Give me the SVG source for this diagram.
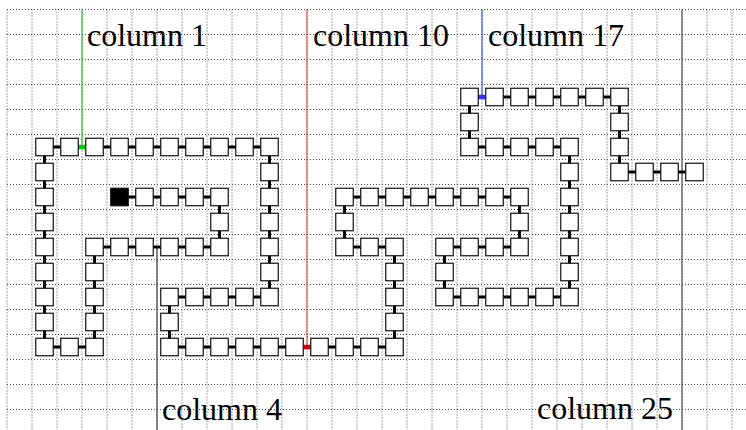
<svg xmlns="http://www.w3.org/2000/svg" width="746" height="430" viewBox="0 0 746 430">
<style>
.grid{fill:none;stroke:#222;stroke-width:0.8;stroke-dasharray:1 2}
.sq{fill:#fff;stroke:#111;stroke-width:1.2}
.start{fill:#000}
.conn{fill:none;stroke:#000;stroke-width:3}
.mark{fill:none;stroke-width:4.5}
.col{fill:none;stroke-width:1.1}
.lbl{font-family:"Liberation Serif","Times New Roman",serif;font-size:32px;fill:#000}
</style>
<rect x="0" y="0" width="746" height="430" fill="#fff"/>
<g id="grid">
<path class="grid" d="M7 9.5V430M32 9.5V430M57 9.5V430M82 9.5V430M107 9.5V430M132 9.5V430M157 9.5V430M182 9.5V430M207 9.5V430M232 9.5V430M257 9.5V430M282 9.5V430M307 9.5V430M332 9.5V430M357 9.5V430M382 9.5V430M407 9.5V430M432 9.5V430M457 9.5V430M482 9.5V430M507 9.5V430M532 9.5V430M557 9.5V430M582 9.5V430M607 9.5V430M632 9.5V430M657 9.5V430M682 9.5V430M707 9.5V430M732 9.5V430"/>
<path class="grid" d="M7 9.5H746M7 34.5H746M7 59.5H746M7 84.5H746M7 109.5H746M7 134.5H746M7 159.5H746M7 184.5H746M7 209.5H746M7 234.5H746M7 259.5H746M7 284.5H746M7 309.5H746M7 334.5H746M7 359.5H746M7 384.5H746M7 409.5H746"/>
</g>
<g id="columns">
<line class="col" x1="82" y1="10" x2="82" y2="147" stroke="#22c422"/>
<line class="col" x1="307" y1="10" x2="307" y2="347" stroke="#ee4444"/>
<line class="col" x1="482" y1="10" x2="482" y2="97" stroke="#4444ee"/>
<line class="col" x1="157" y1="247" x2="157" y2="430" stroke="#333"/>
<line class="col" x1="682" y1="10" x2="682" y2="430" stroke="#444" stroke-width="1.4"/>
</g>
<g id="connectors">
<polyline class="conn" points="119.5,197 219.5,197 219.5,247 94.5,247 94.5,347 44.5,347 44.5,147 269.5,147 269.5,297 169.5,297 169.5,347 394.5,347 394.5,247 344.5,247 344.5,197 519.5,197 519.5,247 444.5,247 444.5,297 569.5,297 569.5,147 469.5,147 469.5,97 619.5,97 619.5,172 694.5,172"/>
<line class="mark" x1="78.25" y1="147" x2="85.75" y2="147" stroke="#00cc00"/>
<line class="mark" x1="303.25" y1="347" x2="310.75" y2="347" stroke="#d00000"/>
<line class="mark" x1="478.25" y1="97" x2="485.75" y2="97" stroke="#3333ff"/>
</g>
<g id="nodes">
<g id="n1"><rect class="sq start" x="110.75" y="188.25" width="17.5" height="17.5"/></g>
<g id="n2"><rect class="sq" x="135.75" y="188.25" width="17.5" height="17.5"/></g>
<g id="n3"><rect class="sq" x="160.75" y="188.25" width="17.5" height="17.5"/></g>
<g id="n4"><rect class="sq" x="185.75" y="188.25" width="17.5" height="17.5"/></g>
<g id="n5"><rect class="sq" x="210.75" y="188.25" width="17.5" height="17.5"/></g>
<g id="n6"><rect class="sq" x="210.75" y="213.25" width="17.5" height="17.5"/></g>
<g id="n7"><rect class="sq" x="210.75" y="238.25" width="17.5" height="17.5"/></g>
<g id="n8"><rect class="sq" x="185.75" y="238.25" width="17.5" height="17.5"/></g>
<g id="n9"><rect class="sq" x="160.75" y="238.25" width="17.5" height="17.5"/></g>
<g id="n10"><rect class="sq" x="135.75" y="238.25" width="17.5" height="17.5"/></g>
<g id="n11"><rect class="sq" x="110.75" y="238.25" width="17.5" height="17.5"/></g>
<g id="n12"><rect class="sq" x="85.75" y="238.25" width="17.5" height="17.5"/></g>
<g id="n13"><rect class="sq" x="85.75" y="263.25" width="17.5" height="17.5"/></g>
<g id="n14"><rect class="sq" x="85.75" y="288.25" width="17.5" height="17.5"/></g>
<g id="n15"><rect class="sq" x="85.75" y="313.25" width="17.5" height="17.5"/></g>
<g id="n16"><rect class="sq" x="85.75" y="338.25" width="17.5" height="17.5"/></g>
<g id="n17"><rect class="sq" x="60.75" y="338.25" width="17.5" height="17.5"/></g>
<g id="n18"><rect class="sq" x="35.75" y="338.25" width="17.5" height="17.5"/></g>
<g id="n19"><rect class="sq" x="35.75" y="313.25" width="17.5" height="17.5"/></g>
<g id="n20"><rect class="sq" x="35.75" y="288.25" width="17.5" height="17.5"/></g>
<g id="n21"><rect class="sq" x="35.75" y="263.25" width="17.5" height="17.5"/></g>
<g id="n22"><rect class="sq" x="35.75" y="238.25" width="17.5" height="17.5"/></g>
<g id="n23"><rect class="sq" x="35.75" y="213.25" width="17.5" height="17.5"/></g>
<g id="n24"><rect class="sq" x="35.75" y="188.25" width="17.5" height="17.5"/></g>
<g id="n25"><rect class="sq" x="35.75" y="163.25" width="17.5" height="17.5"/></g>
<g id="n26"><rect class="sq" x="35.75" y="138.25" width="17.5" height="17.5"/></g>
<g id="n27"><rect class="sq" x="60.75" y="138.25" width="17.5" height="17.5"/></g>
<g id="n28"><rect class="sq" x="85.75" y="138.25" width="17.5" height="17.5"/></g>
<g id="n29"><rect class="sq" x="110.75" y="138.25" width="17.5" height="17.5"/></g>
<g id="n30"><rect class="sq" x="135.75" y="138.25" width="17.5" height="17.5"/></g>
<g id="n31"><rect class="sq" x="160.75" y="138.25" width="17.5" height="17.5"/></g>
<g id="n32"><rect class="sq" x="185.75" y="138.25" width="17.5" height="17.5"/></g>
<g id="n33"><rect class="sq" x="210.75" y="138.25" width="17.5" height="17.5"/></g>
<g id="n34"><rect class="sq" x="235.75" y="138.25" width="17.5" height="17.5"/></g>
<g id="n35"><rect class="sq" x="260.75" y="138.25" width="17.5" height="17.5"/></g>
<g id="n36"><rect class="sq" x="260.75" y="163.25" width="17.5" height="17.5"/></g>
<g id="n37"><rect class="sq" x="260.75" y="188.25" width="17.5" height="17.5"/></g>
<g id="n38"><rect class="sq" x="260.75" y="213.25" width="17.5" height="17.5"/></g>
<g id="n39"><rect class="sq" x="260.75" y="238.25" width="17.5" height="17.5"/></g>
<g id="n40"><rect class="sq" x="260.75" y="263.25" width="17.5" height="17.5"/></g>
<g id="n41"><rect class="sq" x="260.75" y="288.25" width="17.5" height="17.5"/></g>
<g id="n42"><rect class="sq" x="235.75" y="288.25" width="17.5" height="17.5"/></g>
<g id="n43"><rect class="sq" x="210.75" y="288.25" width="17.5" height="17.5"/></g>
<g id="n44"><rect class="sq" x="185.75" y="288.25" width="17.5" height="17.5"/></g>
<g id="n45"><rect class="sq" x="160.75" y="288.25" width="17.5" height="17.5"/></g>
<g id="n46"><rect class="sq" x="160.75" y="313.25" width="17.5" height="17.5"/></g>
<g id="n47"><rect class="sq" x="160.75" y="338.25" width="17.5" height="17.5"/></g>
<g id="n48"><rect class="sq" x="185.75" y="338.25" width="17.5" height="17.5"/></g>
<g id="n49"><rect class="sq" x="210.75" y="338.25" width="17.5" height="17.5"/></g>
<g id="n50"><rect class="sq" x="235.75" y="338.25" width="17.5" height="17.5"/></g>
<g id="n51"><rect class="sq" x="260.75" y="338.25" width="17.5" height="17.5"/></g>
<g id="n52"><rect class="sq" x="285.75" y="338.25" width="17.5" height="17.5"/></g>
<g id="n53"><rect class="sq" x="310.75" y="338.25" width="17.5" height="17.5"/></g>
<g id="n54"><rect class="sq" x="335.75" y="338.25" width="17.5" height="17.5"/></g>
<g id="n55"><rect class="sq" x="360.75" y="338.25" width="17.5" height="17.5"/></g>
<g id="n56"><rect class="sq" x="385.75" y="338.25" width="17.5" height="17.5"/></g>
<g id="n57"><rect class="sq" x="385.75" y="313.25" width="17.5" height="17.5"/></g>
<g id="n58"><rect class="sq" x="385.75" y="288.25" width="17.5" height="17.5"/></g>
<g id="n59"><rect class="sq" x="385.75" y="263.25" width="17.5" height="17.5"/></g>
<g id="n60"><rect class="sq" x="385.75" y="238.25" width="17.5" height="17.5"/></g>
<g id="n61"><rect class="sq" x="360.75" y="238.25" width="17.5" height="17.5"/></g>
<g id="n62"><rect class="sq" x="335.75" y="238.25" width="17.5" height="17.5"/></g>
<g id="n63"><rect class="sq" x="335.75" y="213.25" width="17.5" height="17.5"/></g>
<g id="n64"><rect class="sq" x="335.75" y="188.25" width="17.5" height="17.5"/></g>
<g id="n65"><rect class="sq" x="360.75" y="188.25" width="17.5" height="17.5"/></g>
<g id="n66"><rect class="sq" x="385.75" y="188.25" width="17.5" height="17.5"/></g>
<g id="n67"><rect class="sq" x="410.75" y="188.25" width="17.5" height="17.5"/></g>
<g id="n68"><rect class="sq" x="435.75" y="188.25" width="17.5" height="17.5"/></g>
<g id="n69"><rect class="sq" x="460.75" y="188.25" width="17.5" height="17.5"/></g>
<g id="n70"><rect class="sq" x="485.75" y="188.25" width="17.5" height="17.5"/></g>
<g id="n71"><rect class="sq" x="510.75" y="188.25" width="17.5" height="17.5"/></g>
<g id="n72"><rect class="sq" x="510.75" y="213.25" width="17.5" height="17.5"/></g>
<g id="n73"><rect class="sq" x="510.75" y="238.25" width="17.5" height="17.5"/></g>
<g id="n74"><rect class="sq" x="485.75" y="238.25" width="17.5" height="17.5"/></g>
<g id="n75"><rect class="sq" x="460.75" y="238.25" width="17.5" height="17.5"/></g>
<g id="n76"><rect class="sq" x="435.75" y="238.25" width="17.5" height="17.5"/></g>
<g id="n77"><rect class="sq" x="435.75" y="263.25" width="17.5" height="17.5"/></g>
<g id="n78"><rect class="sq" x="435.75" y="288.25" width="17.5" height="17.5"/></g>
<g id="n79"><rect class="sq" x="460.75" y="288.25" width="17.5" height="17.5"/></g>
<g id="n80"><rect class="sq" x="485.75" y="288.25" width="17.5" height="17.5"/></g>
<g id="n81"><rect class="sq" x="510.75" y="288.25" width="17.5" height="17.5"/></g>
<g id="n82"><rect class="sq" x="535.75" y="288.25" width="17.5" height="17.5"/></g>
<g id="n83"><rect class="sq" x="560.75" y="288.25" width="17.5" height="17.5"/></g>
<g id="n84"><rect class="sq" x="560.75" y="263.25" width="17.5" height="17.5"/></g>
<g id="n85"><rect class="sq" x="560.75" y="238.25" width="17.5" height="17.5"/></g>
<g id="n86"><rect class="sq" x="560.75" y="213.25" width="17.5" height="17.5"/></g>
<g id="n87"><rect class="sq" x="560.75" y="188.25" width="17.5" height="17.5"/></g>
<g id="n88"><rect class="sq" x="560.75" y="163.25" width="17.5" height="17.5"/></g>
<g id="n89"><rect class="sq" x="560.75" y="138.25" width="17.5" height="17.5"/></g>
<g id="n90"><rect class="sq" x="535.75" y="138.25" width="17.5" height="17.5"/></g>
<g id="n91"><rect class="sq" x="510.75" y="138.25" width="17.5" height="17.5"/></g>
<g id="n92"><rect class="sq" x="485.75" y="138.25" width="17.5" height="17.5"/></g>
<g id="n93"><rect class="sq" x="460.75" y="138.25" width="17.5" height="17.5"/></g>
<g id="n94"><rect class="sq" x="460.75" y="113.25" width="17.5" height="17.5"/></g>
<g id="n95"><rect class="sq" x="460.75" y="88.25" width="17.5" height="17.5"/></g>
<g id="n96"><rect class="sq" x="485.75" y="88.25" width="17.5" height="17.5"/></g>
<g id="n97"><rect class="sq" x="510.75" y="88.25" width="17.5" height="17.5"/></g>
<g id="n98"><rect class="sq" x="535.75" y="88.25" width="17.5" height="17.5"/></g>
<g id="n99"><rect class="sq" x="560.75" y="88.25" width="17.5" height="17.5"/></g>
<g id="n100"><rect class="sq" x="585.75" y="88.25" width="17.5" height="17.5"/></g>
<g id="n101"><rect class="sq" x="610.75" y="88.25" width="17.5" height="17.5"/></g>
<g id="n102"><rect class="sq" x="610.75" y="113.25" width="17.5" height="17.5"/></g>
<g id="n103"><rect class="sq" x="610.75" y="138.25" width="17.5" height="17.5"/></g>
<g id="n104"><rect class="sq" x="610.75" y="163.25" width="17.5" height="17.5"/></g>
<g id="n105"><rect class="sq" x="635.75" y="163.25" width="17.5" height="17.5"/></g>
<g id="n106"><rect class="sq" x="660.75" y="163.25" width="17.5" height="17.5"/></g>
<g id="n107"><rect class="sq" x="685.75" y="163.25" width="17.5" height="17.5"/></g>
</g>
<g id="labels">
<text class="lbl" x="87" y="46">column 1</text>
<text class="lbl" x="313" y="46">column 10</text>
<text class="lbl" x="488" y="46">column 17</text>
<text class="lbl" x="162" y="420">column 4</text>
<text class="lbl" x="673" y="419" text-anchor="end">column 25</text>
</g>
</svg>
